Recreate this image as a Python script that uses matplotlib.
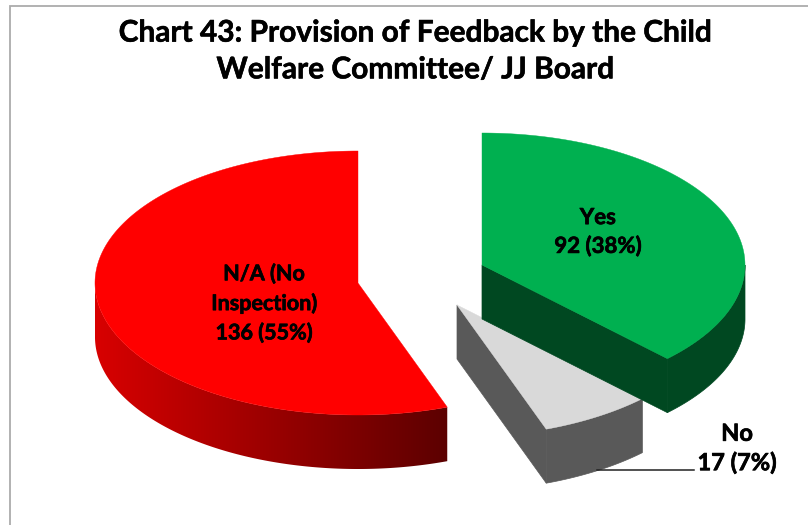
import numpy as np
import matplotlib
matplotlib.use('Agg')
import matplotlib.pyplot as plt
import matplotlib.patheffects as pe
from matplotlib.colors import LinearSegmentedColormap
from matplotlib.patches import Polygon

plt.rcParams['font.family'] = ['Lato', 'DejaVu Sans']

# Data
categories = ['Yes', 'No', 'N/A (No\nInspection)']
values = [92, 17, 136]
percents = ['38%', '7%', '55%']
title = 'Chart 43: Provision of Feedback by the Child\nWelfare Committee/ JJ Board'

# Pie shape, in pixels
rx, ry = 263, 132
depth = 54
centers = [(482, 265), (457, 305), (358, 283)]
top_colors = ['#00b050', '#d9d9d9', '#ff0000']
side_colors = ['#004821', '#595959', None]


def arc(cx, cy, a0, a1, n=200):
    # angles in degrees, clockwise from 12 o'clock
    t = np.radians(np.linspace(a0, a1, n))
    return np.column_stack([cx + rx * np.sin(t), cy - ry * np.cos(t)])


fig = plt.figure(figsize=(8.08, 5.25), dpi=100)
ax = fig.add_axes([0, 0, 1, 1])
ax.axis('off')

# chart frame
ax.plot([10, 10, 808], [525, 5.5, 5.5], color='#ababab', lw=1.3, solid_joinstyle='miter')

# Slice angles
total = sum(values)
ends = np.cumsum(values) / total * 360
starts = np.concatenate([[0], ends[:-1]])

# Draw red first, then grey, then green
for i in [2, 1, 0]:
    cx, cy = centers[i]
    a0, a1 = starts[i], ends[i]
    down = np.array([0, depth])

    if side_colors[i] is None:
        # red wall: only the front part of the rim shows, shaded left to right
        cmap = LinearSegmentedColormap.from_list('rim', ['#d80000', '#5c0000'])
        rim = arc(cx, cy, 270, a0, 300)
        wall = Polygon(np.vstack([rim, rim[::-1] + down]), closed=True, fc='none', ec='none',
                       transform=ax.transData)
        ax.add_patch(wall)
        x0, x1 = rim[:, 0].min(), rim[:, 0].max()
        im = ax.imshow(np.linspace(0, 1, 256).reshape(1, -1), cmap=cmap, aspect='auto',
                       extent=[x0, x1, rim[:, 1].max() + depth, rim[:, 1].min()])
        im.set_clip_path(wall)
    else:
        # outer rim wall, only where the rim faces the viewer
        f0, f1 = max(a0, 90), min(a1, 270)
        rim = arc(cx, cy, f0, f1)
        ax.add_patch(Polygon(np.vstack([rim, rim[::-1] + down]), closed=True,
                             fc=side_colors[i], ec=side_colors[i], lw=0.5))
        # cut wall from the apex out to the edge of the slice
        apex = np.array([cx, cy])
        tip = arc(cx, cy, a1, a1, 1)[0]
        ax.add_patch(Polygon([apex, tip, tip + down, apex + down], closed=True,
                             fc=side_colors[i], ec=side_colors[i], lw=0.5))

    # top face
    edge = arc(cx, cy, a0, a1)
    ax.add_patch(Polygon(np.vstack([[cx, cy], edge]), closed=True,
                         fc=top_colors[i], ec=top_colors[i], lw=0.3))

# imshow resets the limits, so set them after
ax.set_xlim(0, 808)
ax.set_ylim(525, 0)

# Title
ax.text(415.5, 51, title, ha='center', va='center', fontsize=21.5, fontweight='bold',
        color='black', linespacing=1.38,
        path_effects=[pe.withStroke(linewidth=0.4, foreground='black')])

# Labels
label_pos = [(598, 232), (737, 448), (264, 303)]
label_sizes = [16, 17, 15.5]
label_spacing = [1.4, 1.3, 1.43]
for i in range(3):
    ax.text(label_pos[i][0], label_pos[i][1], f'{categories[i]}\n{values[i]} ({percents[i]})',
            ha='center', va='center', fontsize=label_sizes[i], fontweight='bold', color='black',
            linespacing=label_spacing[i],
            path_effects=[pe.withStroke(linewidth=0.5, foreground='black')])

# leader line for the "No" label
ax.plot([597, 694], [470, 470], color='#222222', lw=1.1)

fig.savefig('out.png', dpi=100)
